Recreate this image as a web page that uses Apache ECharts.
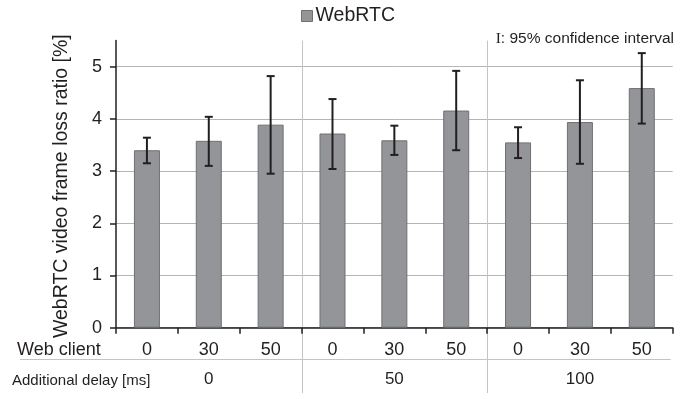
<!DOCTYPE html>
<html>
<head>
<meta charset="utf-8">
<script src="https://cdn.jsdelivr.net/npm/echarts@6/dist/echarts.min.js"></script>
<style>
html,body{margin:0;padding:0;background:#fff;}
#chart{width:697px;height:399px;}
</style>
</head>
<body>
<div id="chart"></div>
<script>
const webClient = ['0', '30', '50', '0', '30', '50', '0', '30', '50'];
const delays = ['0', '50', '100'];
const lossMean = [3.40, 3.58, 3.89, 3.72, 3.59, 4.16, 3.55, 3.94, 4.59];
const ciLow = [3.15, 3.10, 2.95, 3.04, 3.31, 3.40, 3.25, 3.14, 3.91];
const ciHigh = [3.64, 4.04, 4.82, 4.38, 3.87, 4.92, 3.84, 4.74, 5.26];
const yTicks = [0, 1, 2, 3, 4, 5];

const FONT = 'Liberation Sans, Arial, sans-serif';
const chart = echarts.init(document.getElementById('chart'), null, {renderer: 'canvas'});

const errData = webClient.map((c, i) => [i, ciLow[i], ciHigh[i]]);

const option = {
  animation: false,
  backgroundColor: '#ffffff',
  textStyle: {fontFamily: FONT},
  legend: {
    left: 301, top: 6, padding: 0,
    itemWidth: 11, itemHeight: 11, itemGap: 10,
    icon: 'rect',
    textStyle: {fontSize: 19.5, color: '#231f20', fontFamily: FONT, padding: [0, 0, 0, -2]},
    data: [{name: 'WebRTC', itemStyle: {color: '#939598', borderColor: '#6f7072', borderWidth: 1}}]
  },
  grid: {left: 116, right: 24.3, top: 40.6, bottom: 71.3},
  xAxis: [{
    type: 'category',
    data: webClient,
    axisLine: {lineStyle: {color: '#231f20', width: 1.5}},
    axisTick: {show: true, inside: false, length: 6, alignWithLabel: false, lineStyle: {color: '#231f20', width: 1.5}},
    axisLabel: {fontSize: 18, color: '#231f20', margin: 13, fontFamily: FONT, interval: 0},
    splitLine: {show: false}
  }, {
    type: 'category',
    data: delays,
    position: 'bottom',
    axisLine: {show: false},
    axisTick: {show: false},
    axisLabel: {fontSize: 17, color: '#231f20', margin: 43, fontFamily: FONT, interval: 0},
    splitLine: {show: false}
  }],
  yAxis: {
    type: 'value',
    min: yTicks[0], max: 5.5, interval: 1,
    name: 'WebRTC video frame loss ratio [%]',
    nameLocation: 'middle',
    nameGap: 44,
    nameTextStyle: {fontSize: 19.5, color: '#231f20', fontFamily: FONT, padding: [0, 0, 0, -4]},
    axisLine: {show: true, lineStyle: {color: '#231f20', width: 1.5}},
    axisTick: {show: true, length: 6, lineStyle: {color: '#231f20', width: 1.5}},
    axisLabel: {fontSize: 18, color: '#231f20', margin: 14, fontFamily: FONT, showMaxLabel: false,
      formatter: v => (yTicks.indexOf(v) >= 0 ? String(v) : '')},
    splitLine: {show: true, showMaxLine: false, lineStyle: {color: '#b5b5b5', width: 1}}
  },
  series: [{
    name: 'WebRTC',
    type: 'bar',
    xAxisIndex: 0,
    data: lossMean,
    barWidth: 26,
    itemStyle: {color: '#939598', borderColor: '#6f7072', borderWidth: 1},
    z: 2
  }, {
    name: 'CI',
    type: 'custom',
    xAxisIndex: 0,
    data: errData,
    z: 5,
    encode: {x: 0, y: [1, 2]},
    renderItem: function (params, api) {
      const x = api.value(0);
      const lo = api.coord([x, api.value(1)]);
      const hi = api.coord([x, api.value(2)]);
      const cap = 4;
      const style = {stroke: '#231f20', lineWidth: 2};
      return {
        type: 'group',
        children: [
          {type: 'line', shape: {x1: lo[0], y1: lo[1], x2: hi[0], y2: hi[1]}, style},
          {type: 'line', shape: {x1: lo[0] - cap, y1: lo[1], x2: lo[0] + cap, y2: lo[1]}, style},
          {type: 'line', shape: {x1: hi[0] - cap, y1: hi[1], x2: hi[0] + cap, y2: hi[1]}, style}
        ]
      };
    }
  }]
};
chart.setOption(option);

// decorations derived from the grid rectangle
const rect = chart.getModel().getComponent('grid', 0).coordinateSystem.getRect();
const perGroup = webClient.length / delays.length;
const catW = rect.width / webClient.length;
const graphics = [];
for (let g = 1; g < delays.length; g++) {
  const x = Math.round(rect.x + g * perGroup * catW) + 0.5;
  graphics.push({type: 'line', silent: true, z: 0,
    shape: {x1: x, y1: rect.y, x2: x, y2: 393},
    style: {stroke: '#c4c4c4', lineWidth: 1}});
}
graphics.push({type: 'line', silent: true, z: 0,
  shape: {x1: 20, y1: 359.5, x2: rect.x + rect.width - 2, y2: 359.5},
  style: {stroke: '#c4c4c4', lineWidth: 1}});
graphics.push({type: 'text', left: 17, top: 341,
  style: {text: 'Web client', fontSize: 18, fontFamily: FONT, fill: '#231f20'}});
graphics.push({type: 'text', left: 12, top: 373,
  style: {text: 'Additional delay [ms]', fontSize: 15, fontFamily: FONT, fill: '#231f20'}});
graphics.push({type: 'text', right: 23, top: 31,
  style: {
    text: '{s|I}{t|: 95% confidence interval}',
    rich: {
      s: {fontSize: 15.5, fontFamily: 'Liberation Serif, Times New Roman, serif', fill: '#231f20'},
      t: {fontSize: 15.5, fontFamily: FONT, fill: '#231f20'}
    }
  }});
chart.setOption({graphic: graphics});
</script>
</body>
</html>
